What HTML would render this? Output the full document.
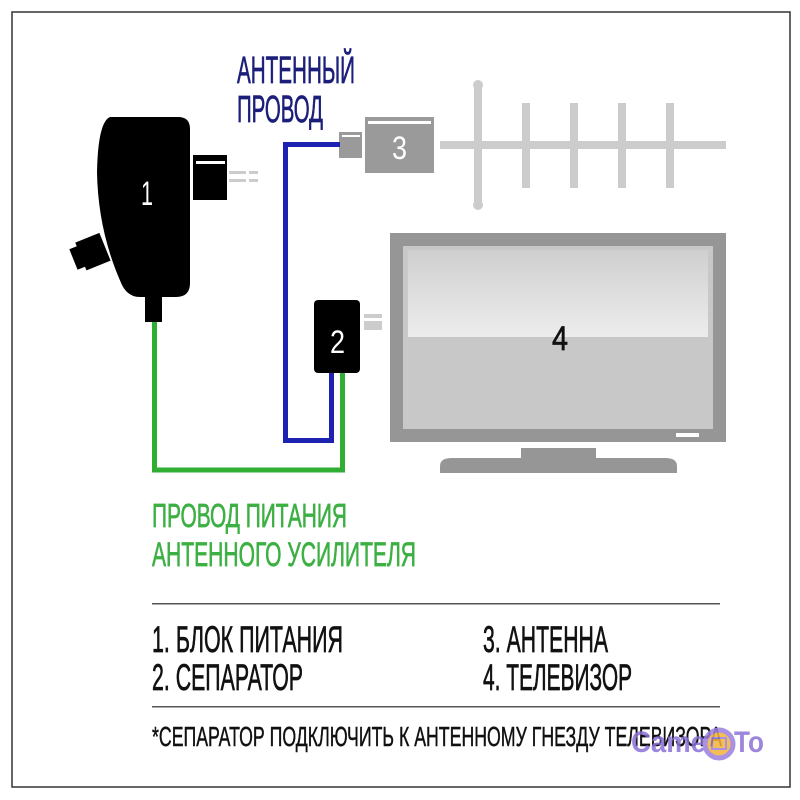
<!DOCTYPE html>
<html><head><meta charset="utf-8"><style>
html,body{margin:0;padding:0;background:#fff;}
svg{display:block;}
text{font-family:"Liberation Sans Narrow","Liberation Sans",sans-serif;}
.t{stroke-width:0.7;}
</style></head><body>
<svg width="800" height="800" viewBox="0 0 800 800" xmlns="http://www.w3.org/2000/svg">
<defs>
<linearGradient id="scr" x1="0" y1="0" x2="0" y2="1">
<stop offset="0" stop-color="#cfcfcf"/><stop offset="0.5" stop-color="#dedede"/><stop offset="1" stop-color="#ececec"/>
</linearGradient>
</defs>
<rect x="0" y="0" width="800" height="800" fill="#fff"/>
<rect x="12" y="12" width="778" height="775" fill="none" stroke="#333" stroke-width="1.5"/>

<rect x="440" y="141" width="286" height="8" fill="#cccccc"/>
<rect x="474" y="84" width="8" height="122" fill="#cccccc"/>
<circle cx="478" cy="85" r="5" fill="#cccccc"/><circle cx="478" cy="205" r="5" fill="#cccccc"/>
<rect x="522" y="103" width="8" height="85" fill="#cccccc"/>
<rect x="570" y="103" width="8" height="85" fill="#cccccc"/>
<rect x="618" y="103" width="8" height="85" fill="#cccccc"/>
<rect x="666" y="103" width="8" height="85" fill="#cccccc"/>
<rect x="365" y="117" width="69" height="56" fill="#9a9a9a"/>
<rect x="368" y="121" width="63" height="3" fill="#fff"/>
<rect x="339" y="132" width="23" height="26" fill="#9a9a9a"/>
<rect x="342" y="135" width="18" height="2" fill="#fff"/>
<text x="392" y="159" font-size="32" fill="#fff" textLength="15" lengthAdjust="spacingAndGlyphs">3</text>

<rect x="390" y="233" width="336" height="209" fill="#969696"/>
<rect x="403" y="246" width="310" height="183" fill="#c8c8c8"/>
<rect x="408" y="250" width="300" height="87" fill="url(#scr)"/>
<rect x="676" y="433" width="23" height="4" fill="#fff"/>
<rect x="521" y="448" width="75" height="13" fill="#969696"/>
<path d="M452,458 H665 Q677,458 677,466 V473 H440 V466 Q440,458 452,458 Z" fill="#969696"/>
<text x="552" y="350" font-size="34" fill="#111" stroke="#111" class="t" textLength="16" lengthAdjust="spacingAndGlyphs">4</text>

<polyline points="340,144.5 285.5,144.5 285.5,440.5 331.5,440.5 331.5,373" fill="none" stroke="#1e22b0" stroke-width="5"/>
<polyline points="154.5,320 154.5,470 342.5,470 342.5,373" fill="none" stroke="#2fae33" stroke-width="5"/>

<path d="M110,117 H178 Q190,117 190,129 V283 Q190,297 176,297 H140 Q128,297 122,285 Q98,232 97,172 Q98,122 110,117 Z" fill="#000"/>
<rect x="145" y="295" width="17" height="27" fill="#000"/>
<rect x="193" y="155" width="34" height="45" fill="#000"/>
<rect x="196" y="161" width="29" height="3" fill="#fff"/>
<rect x="229" y="171" width="17" height="3" fill="#ccc"/><rect x="249" y="171" width="9" height="3" fill="#ccc"/>
<rect x="229" y="179" width="17" height="3" fill="#ccc"/><rect x="249" y="179" width="9" height="3" fill="#ccc"/>
<g transform="rotate(-22 92 252)">
<rect x="80" y="237" width="26" height="30" fill="#000"/>
<rect x="72" y="241" width="10" height="22" fill="#000"/>
</g>
<text x="141" y="205" font-size="34" fill="#fff" textLength="12" lengthAdjust="spacingAndGlyphs">1</text>

<rect x="314" y="300" width="46" height="73" rx="4" fill="#000"/>
<rect x="364" y="314" width="18" height="4" fill="#ccc"/>
<rect x="364" y="321" width="18" height="9" fill="#ccc"/>
<text x="330" y="353" font-size="32" fill="#fff" textLength="15" lengthAdjust="spacingAndGlyphs">2</text>

<text x="237" y="83" font-size="38" fill="#1b1f7a" stroke="#1b1f7a" class="t" textLength="118" lengthAdjust="spacingAndGlyphs">АНТЕННЫЙ</text>
<text x="237" y="122" font-size="38" fill="#1b1f7a" stroke="#1b1f7a" class="t" textLength="86" lengthAdjust="spacingAndGlyphs">ПРОВОД</text>
<text x="152" y="527" font-size="33" fill="#3cb043" stroke="#3cb043" class="t" textLength="195" lengthAdjust="spacingAndGlyphs">ПРОВОД ПИТАНИЯ</text>
<text x="152" y="566" font-size="34" fill="#3cb043" stroke="#3cb043" class="t" textLength="264" lengthAdjust="spacingAndGlyphs">АНТЕННОГО УСИЛИТЕЛЯ</text>

<rect x="152" y="603" width="568" height="1.5" fill="#555"/>
<text x="152" y="652" font-size="37" fill="#111" stroke="#111" class="t" textLength="191" lengthAdjust="spacingAndGlyphs">1. БЛОК ПИТАНИЯ</text>
<text x="152" y="690" font-size="37" fill="#111" stroke="#111" class="t" textLength="151" lengthAdjust="spacingAndGlyphs">2. СЕПАРАТОР</text>
<text x="483" y="652" font-size="37" fill="#111" stroke="#111" class="t" textLength="125" lengthAdjust="spacingAndGlyphs">3. АНТЕННА</text>
<text x="483" y="690" font-size="37" fill="#111" stroke="#111" class="t" textLength="149" lengthAdjust="spacingAndGlyphs">4. ТЕЛЕВИЗОР</text>
<rect x="152" y="706" width="568" height="1.5" fill="#555"/>
<text x="152" y="746" font-size="28" fill="#111" stroke="#111" stroke-width="0.5" textLength="570" lengthAdjust="spacingAndGlyphs">*СЕПАРАТОР ПОДКЛЮЧИТЬ К АНТЕННОМУ ГНЕЗДУ ТЕЛЕВИЗОРА</text>

<g opacity="0.85">
<text x="631" y="752" font-family="Liberation Sans" font-weight="bold" font-size="30" fill="#8b70d6" textLength="75" lengthAdjust="spacingAndGlyphs">Came</text>
<circle cx="719" cy="744" r="14" fill="#f3b23a" stroke="#9b7fe0" stroke-width="5"/>
<rect x="712" y="738" width="14" height="11" fill="none" stroke="#9b7fe0" stroke-width="2"/>
<text x="734" y="752" font-family="Liberation Sans" font-weight="bold" font-size="30" fill="#8b70d6" textLength="30" lengthAdjust="spacingAndGlyphs">To</text>
</g>
</svg>
</body></html>
